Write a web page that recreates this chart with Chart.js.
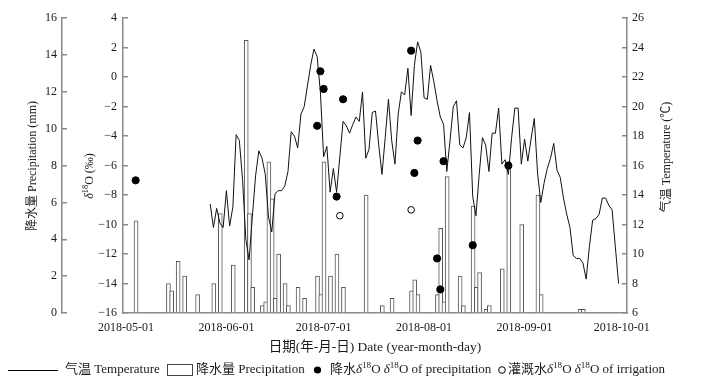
<!DOCTYPE html>
<html><head><meta charset="utf-8">
<script src="https://cdn.jsdelivr.net/npm/chart.js@4.4.1/dist/chart.umd.min.js"></script>
<style>html,body{margin:0;padding:0;background:#fff;}</style>
</head><body>
<canvas id="c" width="708" height="386"></canvas>
<script>
// ---------------- data ----------------
const xTickLabels = ['2018-05-01','2018-06-01','2018-07-01','2018-08-01','2018-09-01','2018-10-01'];

const precipDates = ['2018-05-04','2018-05-14','2018-05-15','2018-05-17','2018-05-19','2018-05-23','2018-05-28','2018-05-30',
  '2018-06-03','2018-06-07','2018-06-08','2018-06-09','2018-06-12','2018-06-13','2018-06-14','2018-06-15','2018-06-16','2018-06-17',
  '2018-06-19','2018-06-20','2018-06-23','2018-06-25','2018-06-29','2018-06-30','2018-07-01','2018-07-03','2018-07-05','2018-07-07',
  '2018-07-14','2018-07-19','2018-07-22','2018-07-28','2018-07-29','2018-07-30','2018-08-05','2018-08-06','2018-08-07','2018-08-08',
  '2018-08-12','2018-08-13','2018-08-16','2018-08-17','2018-08-18','2018-08-20','2018-08-21','2018-08-25','2018-08-27','2018-08-31',
  '2018-09-05','2018-09-06','2018-09-18','2018-09-19'];
const precipMm = [5.0,1.6,1.2,2.8,2.0,1.0,1.6,5.4,
  2.6,14.8,5.4,1.4,0.4,0.6,8.2,6.2,0.8,3.2,
  1.6,0.4,1.4,0.8,2.0,1.0,8.2,2.0,3.2,1.4,
  6.4,0.4,0.8,1.2,1.8,1.0,1.0,4.6,0.6,7.4,
  2.0,0.4,5.8,1.4,2.2,0.2,0.4,2.4,8.2,4.8,
  6.4,1.0,0.2,0.2];

const tempStartDate = '2018-05-27';
const tempC = [13.4,11.8,13.1,12.1,11.8,14.3,11.9,13.2,18.1,17.7,
  15.0,11.0,9.6,12.5,15.3,17.0,16.5,15.4,12.5,11.5,
  14.1,14.3,14.3,14.6,15.6,18.3,18.0,17.2,19.5,20.0,
  21.4,22.8,23.9,23.4,21.0,16.6,17.3,14.2,15.8,14.2,
  16.6,19.0,18.7,18.2,18.8,19.3,19.0,21.0,16.5,17.1,
  19.6,19.7,17.4,15.4,17.9,20.5,17.7,16.1,19.5,21.0,
  20.8,22.6,19.4,22.8,24.4,23.7,20.6,20.5,22.8,21.7,
  20.4,19.3,18.8,15.6,17.7,20.0,20.4,17.4,17.2,17.9,
  19.6,13.9,12.6,15.4,17.9,17.4,15.6,18.2,18.2,19.9,
  16.1,16.4,15.4,17.9,19.9,19.9,16.1,17.8,16.3,17.8,
  19.2,15.5,13.5,14.8,15.8,16.5,17.5,15.7,15.2,13.8,
  12.7,11.8,9.9,9.7,9.7,9.4,8.3,10.5,12.3,12.4,
  12.7,13.8,13.8,13.3,13.0,10.5,8.0];

const isoPrecipDates = ['2018-05-04','2018-06-29','2018-06-30','2018-07-01','2018-07-05','2018-07-07','2018-07-28','2018-07-29',
  '2018-07-30','2018-08-05','2018-08-06','2018-08-07','2018-08-16','2018-08-27'];
const isoPrecipValues = [-7.0,-3.3,0.4,-0.8,-8.1,-1.5,1.8,-6.5,-4.3,-12.3,-14.4,-5.7,-11.4,-6.0];

const isoIrrDates = ['2018-07-06','2018-07-28'];
const isoIrrValues = [-9.4,-9.0];

// ---------------- helpers ----------------
const DAY0 = Date.UTC(2018,4,1);
function dayOf(s){ const [y,m,d] = s.split('-').map(Number); return (Date.UTC(y,m-1,d)-DAY0)/86400000; }
const xTickDays = xTickLabels.map(dayOf);
const labelByDay = {}; xTickLabels.forEach((l,i)=>{ labelByDay[xTickDays[i]] = l; });
const t0 = dayOf(tempStartDate);

const FONT = "'Liberation Serif', 'Noto Sans CJK SC', serif";
const AX = '#8a8a8a';
const TXT = '#1a1a1a';
const XMIN = -0.9, XMAX = 154.6;

function segFont(s, size){ return (s.i ? 'italic ' : '') + (s.s ? (size*0.7).toFixed(1) : size) + 'px ' + FONT; }
function segWidth(ctx, segs, size){ let w = 0; for (const s of segs){ ctx.font = segFont(s,size); w += ctx.measureText(s.t).width; } return w; }
function drawSegs(ctx, segs, x, y, size){
  for (const s of segs){ ctx.font = segFont(s,size); ctx.fillText(s.t, x, s.s ? y - size*0.33 : y); x += ctx.measureText(s.t).width; }
  return x;
}
function drawRotated(ctx, segs, cx, cy, size){
  ctx.save(); ctx.translate(cx, cy); ctx.rotate(-Math.PI/2);
  ctx.textAlign = 'left'; ctx.textBaseline = 'middle';
  drawSegs(ctx, segs, -segWidth(ctx, segs, size)/2, 0, size);
  ctx.restore();
}
const D18 = [{t:'δ', i:1},{t:'18', s:1},{t:'O'}];

const annot = {
  id: 'annot',
  afterDraw(chart){
    const ctx = chart.ctx;
    ctx.save();
    ctx.fillStyle = TXT;
    drawRotated(ctx, [{t:'降水量 Precipitation (mm)'}], 33, 166, 12);
    drawRotated(ctx, [...D18, {t:' (‰)'}], 90, 176, 12);
    drawRotated(ctx, [{t:'气温 Temperature (℃)'}], 667, 157, 12);

    // legend
    const y = 370, fs = 13;
    ctx.textBaseline = 'middle'; ctx.textAlign = 'left';
    ctx.strokeStyle = '#000'; ctx.lineWidth = 1;
    ctx.beginPath(); ctx.moveTo(8, y + 0.5); ctx.lineTo(58, y + 0.5); ctx.stroke();
    drawSegs(ctx, [{t:'气温 Temperature'}], 65, y, fs);
    ctx.strokeStyle = '#444';
    ctx.strokeRect(167.5, 364.5, 25, 11);
    drawSegs(ctx, [{t:'降水量 Precipitation'}], 196, y, fs);
    ctx.fillStyle = '#000';
    ctx.beginPath(); ctx.arc(317.5, y, 3.6, 0, Math.PI*2); ctx.fill();
    ctx.fillStyle = TXT;
    drawSegs(ctx, [{t:'降水'}, ...D18, {t:' '}, ...D18, {t:' of precipitation'}], 330, y, fs);
    ctx.strokeStyle = '#000';
    ctx.beginPath(); ctx.arc(502, y, 3.3, 0, Math.PI*2); ctx.stroke();
    drawSegs(ctx, [{t:'灌溉水'}, ...D18, {t:' '}, ...D18, {t:' of irrigation'}], 508, y, fs);
    ctx.restore();
  }
};

const tickFont = {family: FONT, size: 12};
function yAxis(extra){
  return Object.assign({
    type: 'linear',
    grid: {drawOnChartArea: false, drawTicks: true, tickLength: -5, color: AX, lineWidth: 1.5},
    border: {display: true, color: AX, width: 1.5},
  }, extra);
}

new Chart(document.getElementById('c'), {
  type: 'bar',
  data: {
    datasets: [
      { type: 'scatter', label: '灌溉水δ18O', order: 0, xAxisID: 'x', yAxisID: 'yD',
        data: isoIrrDates.map((d,i)=>({x: dayOf(d), y: isoIrrValues[i]})),
        pointRadius: 3.3, pointBackgroundColor: '#fff', pointBorderColor: '#000', pointBorderWidth: 1 },
      { type: 'scatter', label: '降水δ18O', order: 1, xAxisID: 'x', yAxisID: 'yD',
        data: isoPrecipDates.map((d,i)=>({x: dayOf(d), y: isoPrecipValues[i]})),
        pointRadius: 3.6, pointBackgroundColor: '#000', pointBorderColor: '#000', pointBorderWidth: 1 },
      { type: 'line', label: '气温', order: 2, xAxisID: 'x', yAxisID: 'yT',
        data: tempC.map((v,i)=>({x: t0 + i, y: v})),
        borderColor: '#111', borderWidth: 1, pointRadius: 0, tension: 0, fill: false },
      { type: 'bar', label: '降水量', order: 3, xAxisID: 'xb', yAxisID: 'yP',
        data: precipDates.map((d,i)=>({x: dayOf(d), y: precipMm[i]})),
        backgroundColor: '#fff', borderColor: '#555', borderWidth: 1, barThickness: 4 }
    ]
  },
  options: {
    responsive: false, animation: false, devicePixelRatio: 1,
    layout: {padding: {left: 0, right: 0, top: 16, bottom: 0}},
    plugins: {legend: {display: false}, tooltip: {enabled: false}},
    scales: {
      x: {
        type: 'linear', position: 'bottom', min: XMIN, max: XMAX, offset: false,
        afterBuildTicks: s => { s.ticks = xTickDays.map(v => ({value: v})); },
        ticks: {callback: v => labelByDay[v] || '', font: tickFont, color: TXT, padding: 8, maxRotation: 0, autoSkip: false},
        grid: {display: false, drawTicks: false, offset: false},
        border: {display: true, color: AX, width: 1.5},
        title: {display: true, text: '日期(年-月-日) Date (year-month-day)', font: {family: FONT, size: 13.5}, color: TXT, padding: {top: 0, bottom: 30}},
        afterFit: s => { s.height = 73; }
      },
      xb: { type: 'linear', display: false, min: XMIN + 0.5, max: XMAX + 0.5, offset: false, grid: {offset: false} },
      yP: yAxis({ position: 'left', weight: 1, min: 0, max: 16,
        ticks: {stepSize: 2, font: tickFont, color: TXT, padding: 10},
        afterFit: s => { s.width = 62; } }),
      yD: yAxis({ position: 'left', weight: 0, min: -16, max: 4,
        ticks: {stepSize: 2, font: tickFont, color: TXT, padding: 11, callback: v => v < 0 ? '\u2212' + Math.abs(v) : String(v)},
        afterFit: s => { s.width = 61; } }),
      yT: yAxis({ position: 'right', min: 6, max: 26,
        ticks: {stepSize: 2, font: tickFont, color: TXT, padding: 10},
        afterFit: s => { s.width = 81; } })
    }
  },
  plugins: [annot]
});
</script>
</body></html>
